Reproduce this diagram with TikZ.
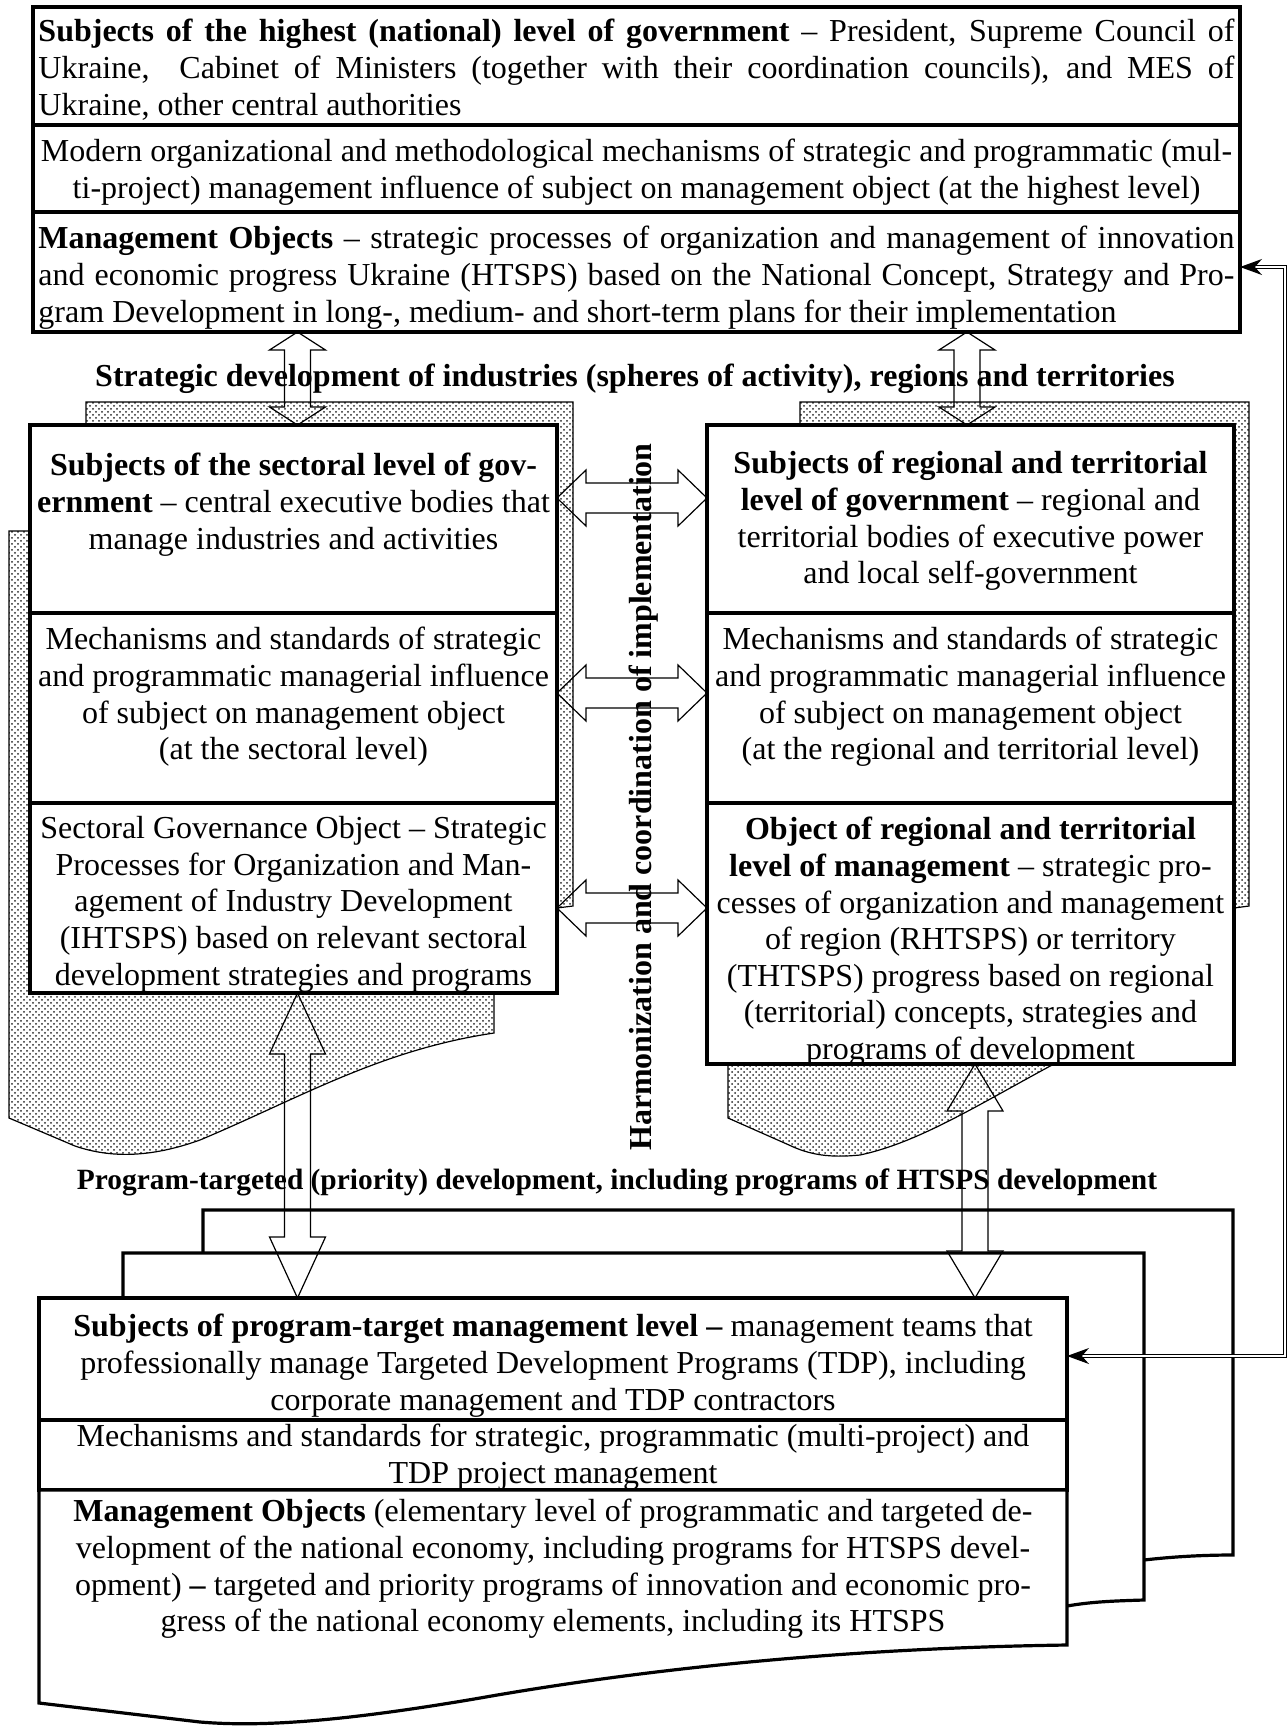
\documentclass[tikz,border=0pt]{standalone}
\usepackage{fontspec}
\setmainfont{Liberation Serif}
\usetikzlibrary{arrows.meta, calc, patterns}

\tikzset{
  box/.style={draw, line width=1.6pt, fill=white, inner sep=0pt, outer sep=0pt, anchor=north west},
  txt/.style={font=\fontsize{16}{18.3}\selectfont, inner sep=0pt, anchor=north},
  lbl/.style={font=\fontsize{16}{18.5}\selectfont\bfseries, inner sep=0pt},
  stipple/.style={draw, line width=0.6pt, pattern=crosshatch dots, pattern color=black!85},
  blockarrow/.style={draw, line width=0.6pt},
  backdoc/.style={draw, line width=1.6pt},
  feedback/.style={double, double distance=1.2pt, line width=0.6pt, {Stealth[length=11pt,width=8pt]}-{Stealth[length=11pt,width=8pt]}}
}

% hollow double block arrows (top tip to bottom tip, left tip to right tip)
\newcommand{\blockV}[3]{%
  \draw[blockarrow] let \p1=(#1), \p2=(#2) in
    (\x1,\y1) -- (\x1+14pt,\y1-#3) -- (\x1+6.5pt,\y1-#3) -- (\x1+6.5pt,\y2+#3)
    -- (\x1+14pt,\y2+#3) -- (\x1,\y2) -- (\x1-14pt,\y2+#3) -- (\x1-6.5pt,\y2+#3)
    -- (\x1-6.5pt,\y1-#3) -- (\x1-14pt,\y1-#3) -- cycle;}
\newcommand{\blockH}[3]{%
  \draw[blockarrow] let \p1=(#1), \p2=(#2) in
    (\x1,\y1) -- (\x1+#3,\y1+14pt) -- (\x1+#3,\y1+7.5pt) -- (\x2-#3,\y1+7.5pt)
    -- (\x2-#3,\y1+14pt) -- (\x2,\y1) -- (\x2-#3,\y1-14pt) -- (\x2-#3,\y1-7.5pt)
    -- (\x1+#3,\y1-7.5pt) -- (\x1+#3,\y1-14pt) -- cycle;}

\begin{document}
\begin{tikzpicture}[x=0.5pt, y=-0.5pt]
		\useasboundingbox (0,0) rectangle (1287,1726);
		
		% Stippled document stacks behind the sectoral and regional boxes
		\draw[stipple] (86,402) -- (573,402) -- (573,906) -- (557,908) -- (86,908) -- cycle;
		\draw[stipple] (9,531) -- (494,531) -- (494,1033) .. controls (380,1050) and (300,1098) .. (200,1140)
			.. controls (150,1158) and (110,1158) .. (75,1146) -- (9,1118) -- cycle;
		\draw[stipple] (800,402) -- (1249,402) -- (1249,906) -- (1234,908) -- (800,908) -- cycle;
		\draw[stipple] (728,531) -- (1213,531) -- (1213,1030) -- (1100,1040) .. controls (1000,1090) and (930,1140) .. (860,1155)
			.. controls (830,1158) and (810,1155) .. (789,1145) -- (728,1118) -- cycle;
		
		% Pages behind the program-target box
		\draw[backdoc] (203,1253) -- (203,1210) -- (1233,1210) -- (1233,1555) .. controls (1200,1555) and (1170,1557) .. (1144,1560);
		\draw[backdoc] (123,1299) -- (123,1253) -- (1144,1253) -- (1144,1600) .. controls (1110,1601) and (1090,1602) .. (1067,1606);
		
		% Highest (national) level
		\node[box, minimum width=603.5pt, minimum height=59pt] (hiSubj) at (33,7) {};
		\node[box, minimum width=603.5pt, minimum height=43.5pt] (hiMech) at (hiSubj.south west) {};
		\node[box, minimum width=603.5pt, minimum height=60pt] (hiObj) at (hiMech.south west) {};
		
		% Sectoral level
		\node[box, minimum width=263.5pt, minimum height=94pt] (secSubj) at (30,425) {};
		\node[box, minimum width=263.5pt, minimum height=95pt] (secMech) at (secSubj.south west) {};
		\node[box, minimum width=263.5pt, minimum height=95pt] (secObj) at (secMech.south west) {};
		
		% Regional and territorial level
		\node[box, minimum width=263.5pt, minimum height=94pt] (regSubj) at (707,425) {};
		\node[box, minimum width=263.5pt, minimum height=95pt] (regMech) at (regSubj.south west) {};
		\node[box, minimum width=263.5pt, minimum height=130.5pt] (regObj) at (regMech.south west) {};
		
		% Program-target level
		\node[box, minimum width=514pt, minimum height=61pt] (ptSubj) at (39,1298) {};
		\node[box, minimum width=514pt, minimum height=35pt] (ptMech) at (ptSubj.south west) {};
		\draw[box] (ptMech.south west) -- (ptMech.south east) -- (1067,1645) .. controls (850,1648) and (650,1668) .. (480,1698)
			.. controls (340,1722) and (260,1727) .. (200,1722) -- (39,1703) -- cycle;
		
		% Texts of the boxes
		\node[txt, text width=598pt, align=justify] (hiSubjT) at ([yshift=-6pt]hiSubj.north)
			{\textbf{Subjects of the highest (national) level of government} – President, Supreme Council of\linebreak Ukraine,\ \ Cabinet of Ministers (together with their coordination councils), and MES of\linebreak Ukraine, other central authorities};
		\node[txt, align=center] (hiMechT) at ([yshift=-7pt]hiMech.north)
			{Modern organizational and methodological mechanisms of strategic and programmatic (mul-\\ti-project) management influence of subject on management object (at the highest level)};
		\node[txt, text width=598pt, align=justify] (hiObjT) at ([yshift=-7pt]hiObj.north)
			{\textbf{Management Objects} – strategic processes of organization and management of innovation\linebreak and economic progress Ukraine (HTSPS) based on the National Concept, Strategy and Pro-\linebreak gram Development in long-, medium- and short-term plans for their implementation};
		
		\node[txt, align=center] (secSubjT) at ([yshift=-14pt]secSubj.north)
			{\textbf{Subjects of the sectoral level of gov-}\\\textbf{ernment} – central executive bodies that\\manage industries and activities};
		\node[txt, align=center] (secMechT) at ([yshift=-7pt]secMech.north)
			{Mechanisms and standards of strategic\\and programmatic managerial influence\\of subject on management object\\(at the sectoral level)};
		\node[txt, align=center] (secObjT) at ([yshift=-6.5pt]secObj.north)
			{Sectoral Governance Object – Strategic\\Processes for Organization and Man-\\agement of Industry Development\\(IHTSPS) based on relevant sectoral\\development strategies and programs};
		
		\node[txt, align=center] (regSubjT) at ([yshift=-13pt]regSubj.north)
			{\textbf{Subjects of regional and territorial}\\\textbf{level of government} – regional and\\territorial bodies of executive power\\and local self-government};
		\node[txt, align=center] (regMechT) at ([yshift=-7pt]regMech.north)
			{Mechanisms and standards of strategic\\and programmatic managerial influence\\of subject on management object\\(at the regional and territorial level)};
		\node[txt, align=center] (regObjT) at ([yshift=-7pt]regObj.north)
			{\textbf{Object of regional and territorial}\\\textbf{level of management} – strategic pro-\\cesses of organization and management\\of region (RHTSPS) or territory\\(THTSPS) progress based on regional\\(territorial) concepts, strategies and\\programs of development};
		
		\node[txt, align=center] (ptSubjT) at ([yshift=-8pt]ptSubj.north)
			{\textbf{Subjects of program-target management level –} management teams that\\professionally manage Targeted Development Programs (TDP), including\\corporate management and TDP contractors};
		\node[txt, align=center] (ptMechT) at ([yshift=-2pt]ptMech.north)
			{Mechanisms and standards for strategic, programmatic (multi-project) and\\TDP project management};
		\node[txt, align=center] (ptObjT) at ([yshift=-4.5pt]ptMech.south)
			{\textbf{Management Objects} (elementary level of programmatic and targeted de-\\velopment of the national economy, including programs for HTSPS devel-\\opment) \textbf{–} targeted and priority programs of innovation and economic pro-\\gress of the national economy elements, including its HTSPS};
		
		% Labels between the levels
		\node[lbl] (stratLbl) at (635,379) {Strategic development of industries (spheres of activity), regions and territories};
		\node[lbl, font=\fontsize{14.7}{17}\selectfont\bfseries] (progLbl) at (617,1182) {Program-targeted (priority) development, including programs of HTSPS development};
		\node[lbl, rotate=90] (harmLbl) at (644,797) {Harmonization and coordination of implementation};
		
		% Block arrows between the levels
		\coordinate (sU) at ([xshift=2pt]secSubj.north);
		\coordinate (rU) at ([xshift=-1.75pt]regSubj.north);
		\blockV{hiObj.south -| sU}{sU}{9pt}
		\blockV{hiObj.south -| rU}{rU}{9pt}
		
		\coordinate (sD) at ([xshift=2pt]secObj.south);
		\coordinate (rD) at ([xshift=2.25pt]regObj.south);
		\blockV{sD}{ptSubj.north -| sD}{30.5pt}
		\blockV{rD}{ptSubj.north -| rD}{23.5pt}
		
		\coordinate (h1) at ([yshift=10.5pt]secSubj.east);
		\coordinate (h2) at ([yshift=7.5pt]secMech.east);
		\coordinate (h3) at ([yshift=-5pt]secObj.east);
		\blockH{h1}{h1 -| regSubj.west}{14.5pt}
		\blockH{h2}{h2 -| regMech.west}{14.5pt}
		\blockH{h3}{h3 -| regObj.west}{14.5pt}
		
		% Feedback from the program-target level to the highest level
		\draw[feedback] ([yshift=2.5pt]hiObj.east) -- ++(22.5pt,0pt) |- ([yshift=1.5pt]ptSubj.east);
	\end{tikzpicture}
\end{document}
